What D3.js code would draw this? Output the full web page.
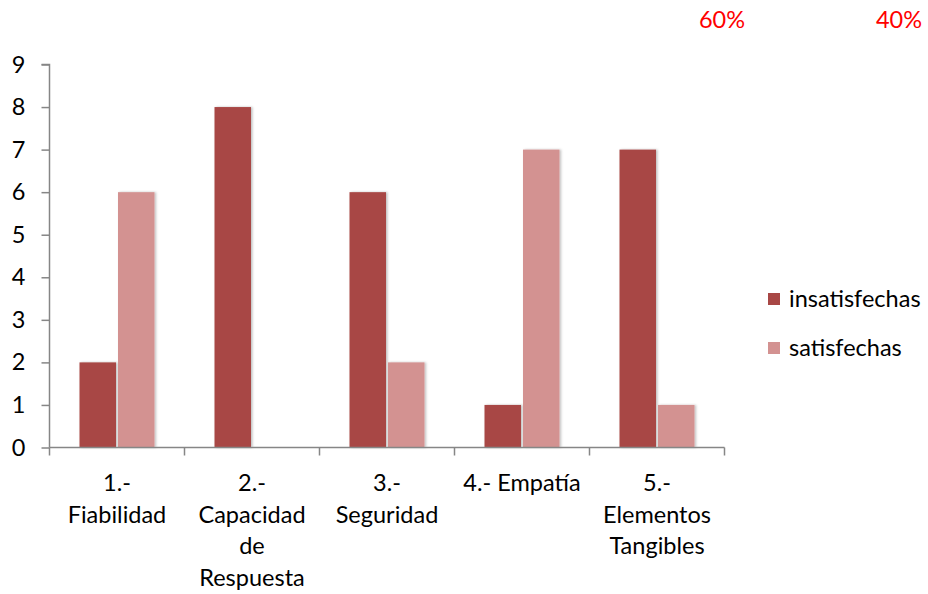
<!DOCTYPE html>
<html><head><meta charset="utf-8">
<script src="https://cdn.jsdelivr.net/npm/d3@7"></script>
<style>body{margin:0;background:#fff}svg{display:block}</style>
</head><body>
<svg id="chart" width="928" height="594"></svg>
<script>
const categories = ["1.-\nFiabilidad", "2.-\nCapacidad\nde\nRespuesta", "3.-\nSeguridad", "4.- Empatía", "5.-\nElementos\nTangibles"];
const insatisfechas = [2, 8, 6, 1, 7];
const satisfechas = [6, 0, 2, 7, 1];
const seriesNames = ["insatisfechas", "satisfechas"];
const yTicks = [0, 1, 2, 3, 4, 5, 6, 7, 8, 9];
const notes = ["60%", "40%"];

const colors = ["#A84745", "#D39291"];
const font = "Lato, 'Open Sans', sans-serif";
const fs = 23.5;
const svg = d3.select("#chart");

const x0 = 49.5, x1 = 724.5, yBase = 447.5, yTop = 64.5;
const x = d3.scaleBand().domain(categories).range([x0, x1]).paddingInner(0).paddingOuter(0);
const y = d3.scaleLinear().domain([0, 9]).range([yBase, yTop]);
const barW = 36.5, gap = 2;

const defs = svg.append("defs");
const f = defs.append("filter").attr("id", "sh").attr("x", "-20%").attr("y", "-5%").attr("width", "140%").attr("height", "110%");
f.append("feDropShadow").attr("dx", 1.5).attr("dy", 0).attr("stdDeviation", 1.2).attr("flood-color", "#000").attr("flood-opacity", 0.25);

const series = [insatisfechas, satisfechas];
series.forEach((vals, si) => {
  svg.append("g").selectAll("rect").data(vals.map((v, i) => ({v, c: categories[i]})).filter(d => d.v > 0))
    .join("rect")
    .attr("x", d => x(d.c) + x.bandwidth() / 2 + (si === 0 ? -barW - gap / 2 : gap / 2))
    .attr("y", d => y(d.v))
    .attr("width", barW)
    .attr("height", d => yBase - y(d.v))
    .attr("fill", colors[si])
    .attr("filter", "url(#sh)");
});

// y axis
const yAxis = d3.axisLeft(y).tickValues(yTicks).tickSize(8).tickPadding(16).tickFormat(d3.format("d"));
const gy = svg.append("g").attr("transform", `translate(${x0},0)`).call(yAxis);
gy.select(".domain").attr("stroke", "#868686").attr("stroke-width", 1.5).attr("d", `M-8,${yTop}H0V${yBase}`);
gy.selectAll(".tick line").attr("stroke", "#868686").attr("stroke-width", 1.5);
gy.selectAll(".tick text").attr("font-family", font).attr("font-size", fs).attr("fill", "#000");

// x axis
const xAxis = d3.axisBottom(x).tickSize(0).tickFormat("");
const gx = svg.append("g").attr("transform", `translate(0,${yBase})`).call(xAxis);
gx.select(".domain").attr("stroke", "#868686").attr("stroke-width", 1.5).attr("d", `M${x0},0H${x1}`);
const bounds = [x0].concat(categories.map(c => x(c) + x.bandwidth()));
gx.selectAll("line.sep").data(bounds).join("line").attr("class", "sep")
  .attr("x1", d => d).attr("x2", d => d).attr("y1", 0).attr("y2", 8)
  .attr("stroke", "#868686").attr("stroke-width", 1.5);

const lab = svg.append("g").attr("font-family", font).attr("font-size", fs).attr("fill", "#000").attr("text-anchor", "middle");
categories.forEach(c => {
  const lines = c.split("\n");
  const t = lab.append("text").attr("x", x(c) + x.bandwidth() / 2).attr("y", 491);
  lines.forEach((ln, i) => t.append("tspan").attr("x", x(c) + x.bandwidth() / 2).attr("dy", i === 0 ? 0 : 31.7).text(ln));
});

// legend
const lg = svg.append("g").attr("font-family", font).attr("font-size", fs);
seriesNames.forEach((n, i) => {
  const cy = 299 + i * 49;
  lg.append("rect").attr("x", 768).attr("y", cy - 6).attr("width", 12).attr("height", 12).attr("fill", colors[i]);
  lg.append("text").attr("x", 789).attr("y", cy + 8).attr("fill", "#000").text(n);
});

// red notes
const notesX = [722, 899];
svg.append("g").selectAll("text").data(notes).join("text")
  .attr("x", (d, i) => notesX[i]).attr("y", 28).attr("text-anchor", "middle")
  .attr("font-family", font).attr("font-size", fs).attr("fill", "#FF0000").text(d => d);
</script>
</body></html>
